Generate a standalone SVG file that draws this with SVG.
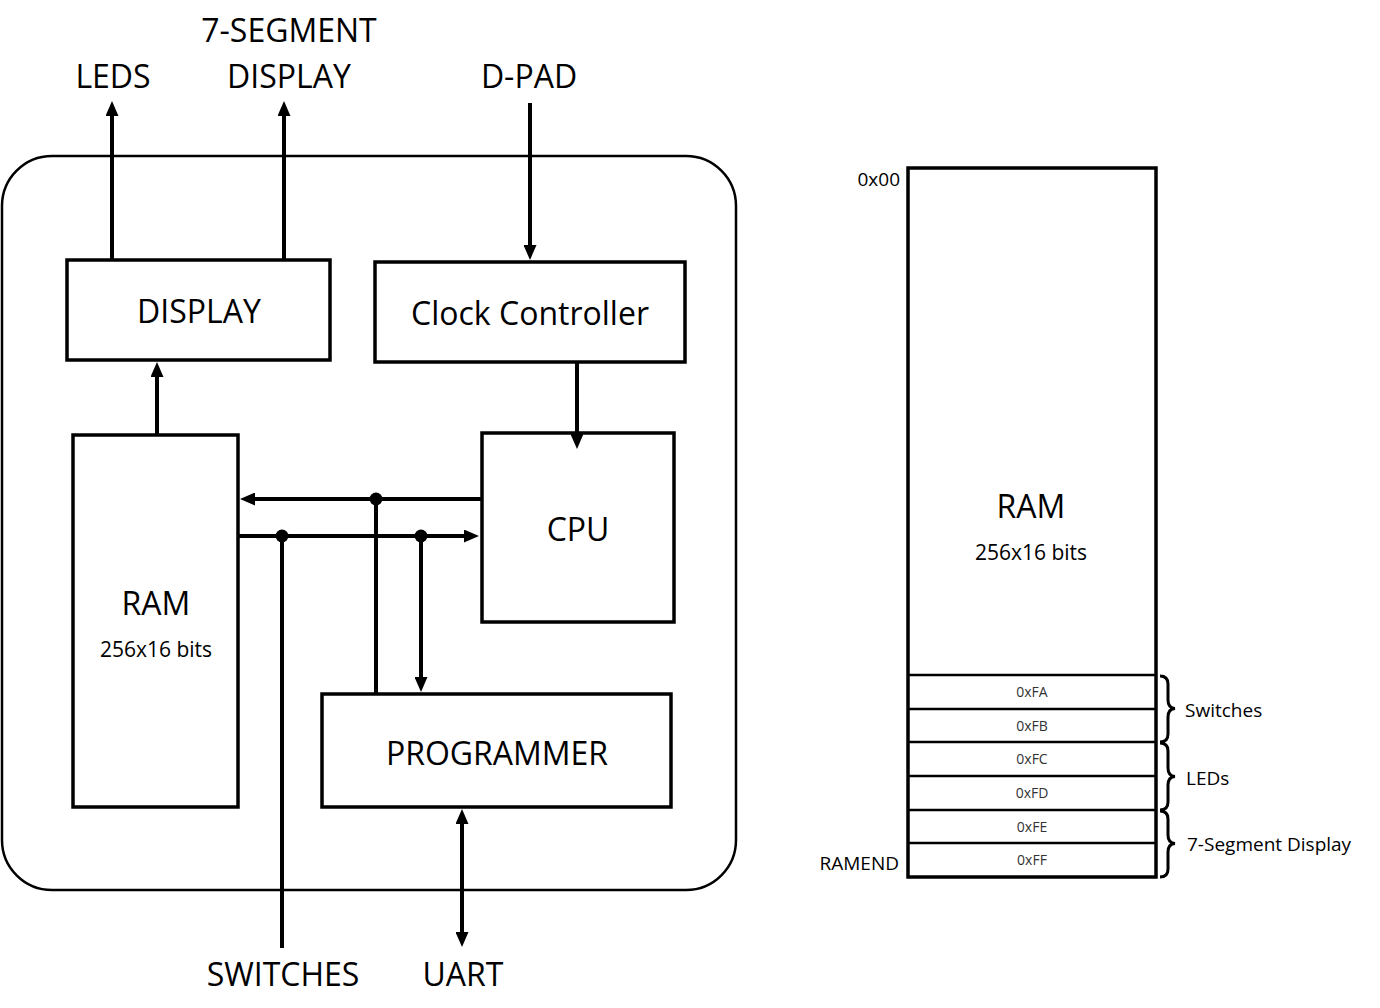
<svg xmlns="http://www.w3.org/2000/svg" width="1380" height="1008" viewBox="0 0 1380 1008">
<style>
  text { font-family: "Open Sans", "Liberation Sans", sans-serif; fill: #000; text-anchor: middle; }
  .box { fill: #fff; stroke: #000; stroke-width: 3.5; }
  .big { font-size: 32px; }
  .sub { font-size: 21px; }
  .cell { font-size: 14px; fill: #333; }
  .lbl { font-size: 19px; }
  .wire { fill: none; stroke: #000; stroke-width: 4; }
  .div { stroke: #000; stroke-width: 2.5; }
  .brace { fill: none; stroke: #000; stroke-width: 3; }
</style>
<defs>
  <marker id="ah" viewBox="0 0 15 13" markerWidth="15" markerHeight="13" refX="4" refY="6.5" orient="auto-start-reverse" markerUnits="userSpaceOnUse">
    <path d="M0,0 L15,6.5 L0,13 z" fill="#000"/>
  </marker>
</defs>
<rect width="1380" height="1008" fill="#fff"/>

<g id="chip">
  <rect x="2" y="156" width="734" height="734" rx="50" ry="50" fill="none" stroke="#000" stroke-width="2.5"/>
</g>

<g id="display">
  <rect class="box" x="67" y="260" width="263" height="100"/>
  <text class="big" x="199" y="323">DISPLAY</text>
</g>
<g id="clock">
  <rect class="box" x="375" y="262" width="310" height="100"/>
  <text class="big" x="530" y="325">Clock Controller</text>
</g>
<g id="ram">
  <rect class="box" x="73" y="435" width="165" height="372"/>
  <text class="big" x="156" y="615">RAM</text>
  <text class="sub" x="156" y="657">256x16 bits</text>
</g>
<g id="cpu">
  <rect class="box" x="482" y="433" width="192" height="189"/>
  <text class="big" x="578" y="541">CPU</text>
</g>
<g id="programmer">
  <rect class="box" x="322" y="694" width="349" height="113"/>
  <text class="big" x="497" y="765">PROGRAMMER</text>
</g>

<g id="labels">
  <text class="big" x="113" y="88">LEDS</text>
  <text class="big" x="289" y="42">7-SEGMENT</text>
  <text class="big" x="289" y="88">DISPLAY</text>
  <text class="big" x="529" y="88">D-PAD</text>
  <text class="big" x="283" y="986">SWITCHES</text>
  <text class="big" x="463" y="986">UART</text>
</g>

<g id="connectors">
  <line class="wire" x1="112" y1="260" x2="112" y2="112" marker-end="url(#ah)"/>
  <line class="wire" x1="284" y1="260" x2="284" y2="112" marker-end="url(#ah)"/>
  <line class="wire" x1="530" y1="103" x2="530" y2="249" marker-end="url(#ah)"/>
  <line class="wire" x1="157" y1="435" x2="157" y2="373" marker-end="url(#ah)"/>
  <line class="wire" x1="577" y1="362" x2="577" y2="438" marker-end="url(#ah)"/>
  <line class="wire" x1="482" y1="499" x2="251" y2="499" marker-end="url(#ah)"/>
  <line class="wire" x1="238" y1="536" x2="468" y2="536" marker-end="url(#ah)"/>
  <line class="wire" x1="376" y1="499" x2="376" y2="694"/>
  <line class="wire" x1="421" y1="536" x2="421" y2="681" marker-end="url(#ah)"/>
  <line class="wire" x1="282" y1="536" x2="282" y2="948"/>
  <line class="wire" x1="462" y1="820" x2="462" y2="936" marker-start="url(#ah)" marker-end="url(#ah)"/>
  <circle cx="376" cy="499" r="6.5" fill="#000"/>
  <circle cx="282" cy="536" r="6.5" fill="#000"/>
  <circle cx="421" cy="536" r="6.5" fill="#000"/>
</g>

<g id="memory-map">
  <rect class="box" x="908" y="168" width="248" height="709"/>
  <line class="div" x1="908" y1="675" x2="1156" y2="675"/>
  <line class="div" x1="908" y1="709" x2="1156" y2="709"/>
  <line class="div" x1="908" y1="742" x2="1156" y2="742" stroke-width="3"/>
  <line class="div" x1="908" y1="776" x2="1156" y2="776"/>
  <line class="div" x1="908" y1="810" x2="1156" y2="810" stroke-width="3"/>
  <line class="div" x1="908" y1="843" x2="1156" y2="843"/>
  <text class="big" x="1031" y="518">RAM</text>
  <text class="sub" x="1031" y="560">256x16 bits</text>
  <text class="cell" x="1032" y="697">0xFA</text>
  <text class="cell" x="1032" y="731">0xFB</text>
  <text class="cell" x="1032" y="764">0xFC</text>
  <text class="cell" x="1032" y="798">0xFD</text>
  <text class="cell" x="1032" y="832">0xFE</text>
  <text class="cell" x="1032" y="865">0xFF</text>
  <text class="lbl" x="900" y="186" style="text-anchor:end">0x00</text>
  <text class="lbl" x="899" y="870" style="text-anchor:end">RAMEND</text>
  <path class="brace" d="M1160,676 Q1168,676 1168,684 L1168,700 Q1168,708 1175,708.5 Q1168,709 1168,717 L1168,734 Q1168,742 1160,742"/>
  <path class="brace" d="M1160,743 Q1168,743 1168,751 L1168,768 Q1168,776 1175,776.5 Q1168,777 1168,785 L1168,802 Q1168,810 1160,810"/>
  <path class="brace" d="M1160,811 Q1168,811 1168,819 L1168,835 Q1168,843 1175,843.5 Q1168,844 1168,852 L1168,869 Q1168,877 1160,877"/>
  <text class="lbl" x="1185" y="717" style="text-anchor:start">Switches</text>
  <text class="lbl" x="1186" y="785" style="text-anchor:start">LEDs</text>
  <text class="lbl" x="1187" y="851" style="text-anchor:start">7-Segment Display</text>
</g>
</svg>
